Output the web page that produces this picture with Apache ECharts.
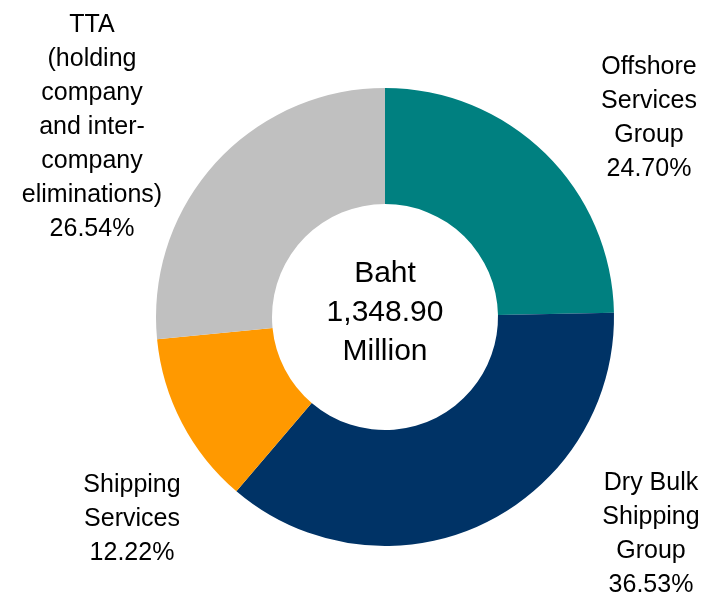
<!DOCTYPE html>
<html>
<head>
<meta charset="utf-8">
<script src="https://cdn.jsdelivr.net/npm/echarts@6/dist/echarts.min.js"></script>
<style>
html,body{margin:0;padding:0;background:#fff;}
#c{width:706px;height:597px;}
</style>
</head>
<body>
<div id="c"></div>
<script>
// ---- data ----
var categories = [
  'Offshore\nServices\nGroup',
  'Dry Bulk\nShipping\nGroup',
  'Shipping\nServices',
  'TTA\n(holding\ncompany\nand inter-\ncompany\neliminations)'
];
var shares = [24.70, 36.53, 12.22, 26.54];
var colors = ['#008080', '#003366', '#FF9900', '#C0C0C0'];
var centerText = ['Baht', '1,348.90', 'Million'];

// ---- layout (label anchor points, px) ----
var labelAnchors = [[649, 118], [651, 534], [132, 519], [92, 127]];
var FONT = '"Liberation Sans", Arial, sans-serif';

var chart = echarts.init(document.getElementById('c'));
chart.setOption({
  backgroundColor: '#ffffff',
  animation: false,
  graphic: [{
    type: 'text',
    x: 385, y: 313,
    style: {
      text: centerText.join('\n'),
      font: '30px ' + FONT,
      fontSize: 30,
      fontFamily: FONT,
      lineHeight: 39,
      fill: '#000',
      align: 'center',
      verticalAlign: 'middle',
      textAlign: 'center',
      textVerticalAlign: 'middle'
    }
  }],
  series: [{
    type: 'pie',
    center: [385, 317],
    radius: [113, 229],
    startAngle: 90,
    clockwise: true,
    avoidLabelOverlap: false,
    emphasis: { disabled: true },
    itemStyle: { borderWidth: 0 },
    labelLine: { show: false },
    label: {
      show: true,
      position: 'outside',
      color: '#000',
      fontFamily: FONT,
      fontSize: 25,
      lineHeight: 34,
      align: 'center',
      formatter: function (p) {
        return p.name + '\n' + p.value.toFixed(2) + '%';
      }
    },
    labelLayout: function (p) {
      var a = labelAnchors[p.dataIndex];
      return { x: a[0], y: a[1], align: 'center', verticalAlign: 'middle' };
    },
    data: categories.map(function (n, i) {
      return { name: n, value: shares[i], itemStyle: { color: colors[i] } };
    })
  }]
});
</script>
</body>
</html>
